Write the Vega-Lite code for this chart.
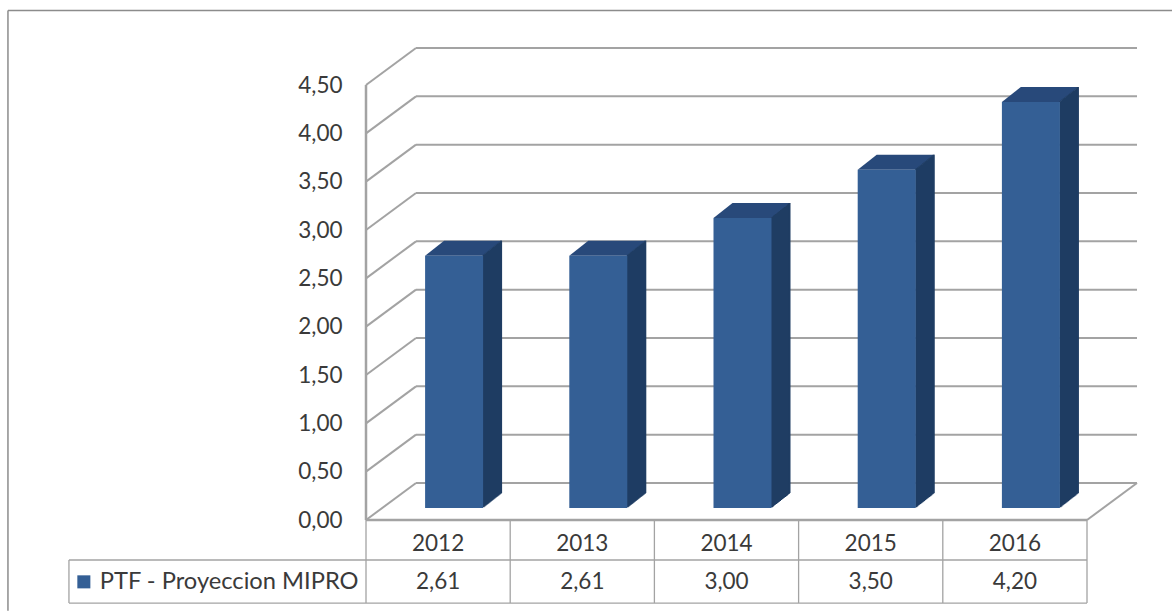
{"$schema":"https://vega.github.io/schema/vega-lite/v6.json","width":1172,"height":611,"padding":0,"autosize":"none","background":"white","config":{"view":{"stroke":null},"font":"Lato","text":{"font":"Lato","fontSize":22.5,"color":"#3a3a3a"}},
"resolve":{"axis":{"y":"independent","x":"independent"}},
"datasets":{"bars":[{"year":2012,"value":2.61,"series":"PTF - Proyeccion MIPRO"},{"year":2013,"value":2.61,"series":"PTF - Proyeccion MIPRO"},{"year":2014,"value":3.0,"series":"PTF - Proyeccion MIPRO"},{"year":2015,"value":3.5,"series":"PTF - Proyeccion MIPRO"},{"year":2016,"value":4.2,"series":"PTF - Proyeccion MIPRO"}],
"ticks":[{"tick":0},{"tick":0.5},{"tick":1},{"tick":1.5},{"tick":2},{"tick":2.5},{"tick":3},{"tick":3.5},{"tick":4},{"tick":4.5}],
"cols":[{"edge":2011.5},{"edge":2012.5},{"edge":2013.5},{"edge":2014.5},{"edge":2015.5},{"edge":2016.5}]},
"layer":[
{"data":{"name":"ticks"},"mark":{"type":"rule","color":"#a3a3a3","strokeWidth":2},"encoding":{"x":{"datum":2011.5,"type":"quantitative","scale":{"domain":[2011.5,2016.5],"range":[366,1087],"nice":false,"zero":false,"padding":0},"axis":null},"y":{"field":"tick","type":"quantitative","scale":{"domain":[0,4.5],"range":[520,85],"nice":false,"zero":false},"axis":{"orient":"left","offset":-366,"values":[0,0.5,1,1.5,2,2.5,3,3.5,4,4.5],"labelExpr":"replace(format(datum.value,'.2f'),'.',',')","ticks":false,"domain":false,"grid":false,"title":null,"labelFont":"Lato","labelFontSize":22.5,"labelColor":"#3a3a3a","labelPadding":24}},"x2":{"datum":2011.5},"y2":{"field":"tick"}}},
{"data":{"name":"ticks"},"mark":{"type":"rule","color":"#a3a3a3","strokeWidth":2,"x2Offset":50,"y2Offset":-37},"encoding":{"x":{"datum":2011.5,"type":"quantitative","axis":null},"x2":{"datum":2011.5},"y":{"field":"tick","type":"quantitative","axis":null},"y2":{"field":"tick"}}},
{"data":{"name":"ticks"},"mark":{"type":"rule","color":"#a3a3a3","strokeWidth":2,"xOffset":50,"x2Offset":50,"yOffset":-37,"y2Offset":-37},"encoding":{"x":{"datum":2011.5,"type":"quantitative","axis":null},"x2":{"datum":2016.5},"y":{"field":"tick","type":"quantitative","axis":null},"y2":{"field":"tick"}}},
{"data":{"values":[{"k":1}]},"mark":{"type":"rule","color":"#a3a3a3","strokeWidth":2,"x2Offset":50,"y2Offset":-37},"encoding":{"x":{"datum":2016.5,"type":"quantitative","axis":null},"x2":{"datum":2016.5},"y":{"datum":0,"type":"quantitative","axis":null},"y2":{"datum":0}}},
{"data":{"values":[{"k":1}]},"mark":{"type":"rule","color":"#a3a3a3","strokeWidth":2.5},"encoding":{"x":{"datum":2011.5,"type":"quantitative","axis":null},"y":{"datum":0,"type":"quantitative","axis":null},"y2":{"datum":4.5}}},
{"data":{"values":[{"k":1}]},"mark":{"type":"rule","color":"#a3a3a3","strokeWidth":2.5},"encoding":{"x":{"datum":2011.5,"type":"quantitative","axis":null},"x2":{"datum":2016.5},"y":{"datum":0,"type":"quantitative","axis":null}}},
{"data":{"values":[{"k":1}]},"mark":{"type":"rule","color":"#8c8c8c","strokeWidth":1.5},"encoding":{"x":{"datum":2009.017,"type":"quantitative","axis":null},"x2":{"datum":2017.13},"y":{"datum":5.27,"type":"quantitative","axis":null}}},
{"data":{"values":[{"k":1}]},"mark":{"type":"rule","color":"#8c8c8c","strokeWidth":1.5},"encoding":{"x":{"datum":2009.017,"type":"quantitative","axis":null},"y":{"datum":5.27,"type":"quantitative","axis":null},"y2":{"datum":-0.94}}},
{"data":{"name":"cols"},"mark":{"type":"rule","color":"#a3a3a3","strokeWidth":1.3},"encoding":{"x":{"field":"edge","type":"quantitative","axis":null},"y":{"datum":0,"type":"quantitative","axis":null},"y2":{"datum":-0.859}}},
{"data":{"values":[{"k":1}]},"mark":{"type":"rule","color":"#a3a3a3","strokeWidth":1.3},"encoding":{"x":{"datum":2009.44,"type":"quantitative","axis":null},"y":{"datum":-0.414,"type":"quantitative","axis":null},"y2":{"datum":-0.859}}},
{"data":{"values":[{"k":1}]},"mark":{"type":"rule","color":"#a3a3a3","strokeWidth":1.3},"encoding":{"x":{"datum":2009.44,"type":"quantitative","axis":null},"x2":{"datum":2016.5},"y":{"datum":-0.414,"type":"quantitative","axis":null}}},
{"data":{"values":[{"k":1}]},"mark":{"type":"rule","color":"#a3a3a3","strokeWidth":1.3},"encoding":{"x":{"datum":2009.44,"type":"quantitative","axis":null},"x2":{"datum":2016.5},"y":{"datum":-0.859,"type":"quantitative","axis":null}}},
{"data":{"name":"bars"},"mark":{"type":"text","align":"center","baseline":"middle"},"encoding":{"x":{"field":"year","type":"quantitative","axis":null},"y":{"datum":-0.248,"type":"quantitative","axis":null},"text":{"field":"year","type":"quantitative","format":"d"}}},
{"data":{"name":"bars"},"mark":{"type":"text","align":"center","baseline":"middle"},"encoding":{"x":{"field":"year","type":"quantitative","axis":null},"y":{"datum":-0.641,"type":"quantitative","axis":null},"text":{"field":"label","type":"nominal"}},"transform":[{"calculate":"replace(format(datum.value,'.2f'),'.',',')","as":"label"}]},
{"data":{"name":"bars"},"mark":{"type":"point","filled":true,"opacity":1,"size":4,"shape":"M-13,-12L45,-12L64,-27L6,-27Z","color":"#28497a"},"encoding":{"x":{"field":"year","type":"quantitative","axis":null},"y":{"field":"value","type":"quantitative","axis":null}}},
{"data":{"name":"bars"},"layer":[
{"mark":{"type":"bar","width":2,"color":"#1f3d63","xOffset":45.5,"yOffset":-12.8,"y2Offset":-12.8}},
{"mark":{"type":"bar","width":2,"color":"#1f3d63","xOffset":46.5,"yOffset":-13.6,"y2Offset":-13.6}},
{"mark":{"type":"bar","width":2,"color":"#1f3d63","xOffset":47.5,"yOffset":-14.4,"y2Offset":-14.4}},
{"mark":{"type":"bar","width":2,"color":"#1f3d63","xOffset":48.5,"yOffset":-15.2,"y2Offset":-15.2}},
{"mark":{"type":"bar","width":2,"color":"#1f3d63","xOffset":49.5,"yOffset":-15.9,"y2Offset":-15.9}},
{"mark":{"type":"bar","width":2,"color":"#1f3d63","xOffset":50.5,"yOffset":-16.7,"y2Offset":-16.7}},
{"mark":{"type":"bar","width":2,"color":"#1f3d63","xOffset":51.5,"yOffset":-17.5,"y2Offset":-17.5}},
{"mark":{"type":"bar","width":2,"color":"#1f3d63","xOffset":52.5,"yOffset":-18.3,"y2Offset":-18.3}},
{"mark":{"type":"bar","width":2,"color":"#1f3d63","xOffset":53.5,"yOffset":-19.1,"y2Offset":-19.1}},
{"mark":{"type":"bar","width":2,"color":"#1f3d63","xOffset":54.5,"yOffset":-19.9,"y2Offset":-19.9}},
{"mark":{"type":"bar","width":2,"color":"#1f3d63","xOffset":55.5,"yOffset":-20.7,"y2Offset":-20.7}},
{"mark":{"type":"bar","width":2,"color":"#1f3d63","xOffset":56.5,"yOffset":-21.5,"y2Offset":-21.5}},
{"mark":{"type":"bar","width":2,"color":"#1f3d63","xOffset":57.5,"yOffset":-22.3,"y2Offset":-22.3}},
{"mark":{"type":"bar","width":2,"color":"#1f3d63","xOffset":58.5,"yOffset":-23.1,"y2Offset":-23.1}},
{"mark":{"type":"bar","width":2,"color":"#1f3d63","xOffset":59.5,"yOffset":-23.8,"y2Offset":-23.8}},
{"mark":{"type":"bar","width":2,"color":"#1f3d63","xOffset":60.5,"yOffset":-24.6,"y2Offset":-24.6}},
{"mark":{"type":"bar","width":2,"color":"#1f3d63","xOffset":61.5,"yOffset":-25.4,"y2Offset":-25.4}},
{"mark":{"type":"bar","width":2,"color":"#1f3d63","xOffset":62.5,"yOffset":-26.2,"y2Offset":-26.2}},
{"mark":{"type":"bar","width":2,"color":"#1f3d63","xOffset":63,"yOffset":-27,"y2Offset":-27}},
{"mark":{"type":"bar","width":58,"xOffset":16,"yOffset":-12,"y2Offset":-12},"encoding":{"color":{"field":"series","type":"nominal","scale":{"range":["#345f95"]},"legend":{"orient":"none","legendX":72,"legendY":570,"title":null,"symbolType":"square","symbolSize":170,"symbolStrokeWidth":0,"labelFont":"Lato","labelFontSize":23.7,"labelColor":"#3a3a3a","labelLimit":400}}}}
],"encoding":{"x":{"field":"year","type":"quantitative","axis":null},"y":{"field":"value","type":"quantitative","axis":null,"stack":null},"y2":{"datum":0}}}
]}
